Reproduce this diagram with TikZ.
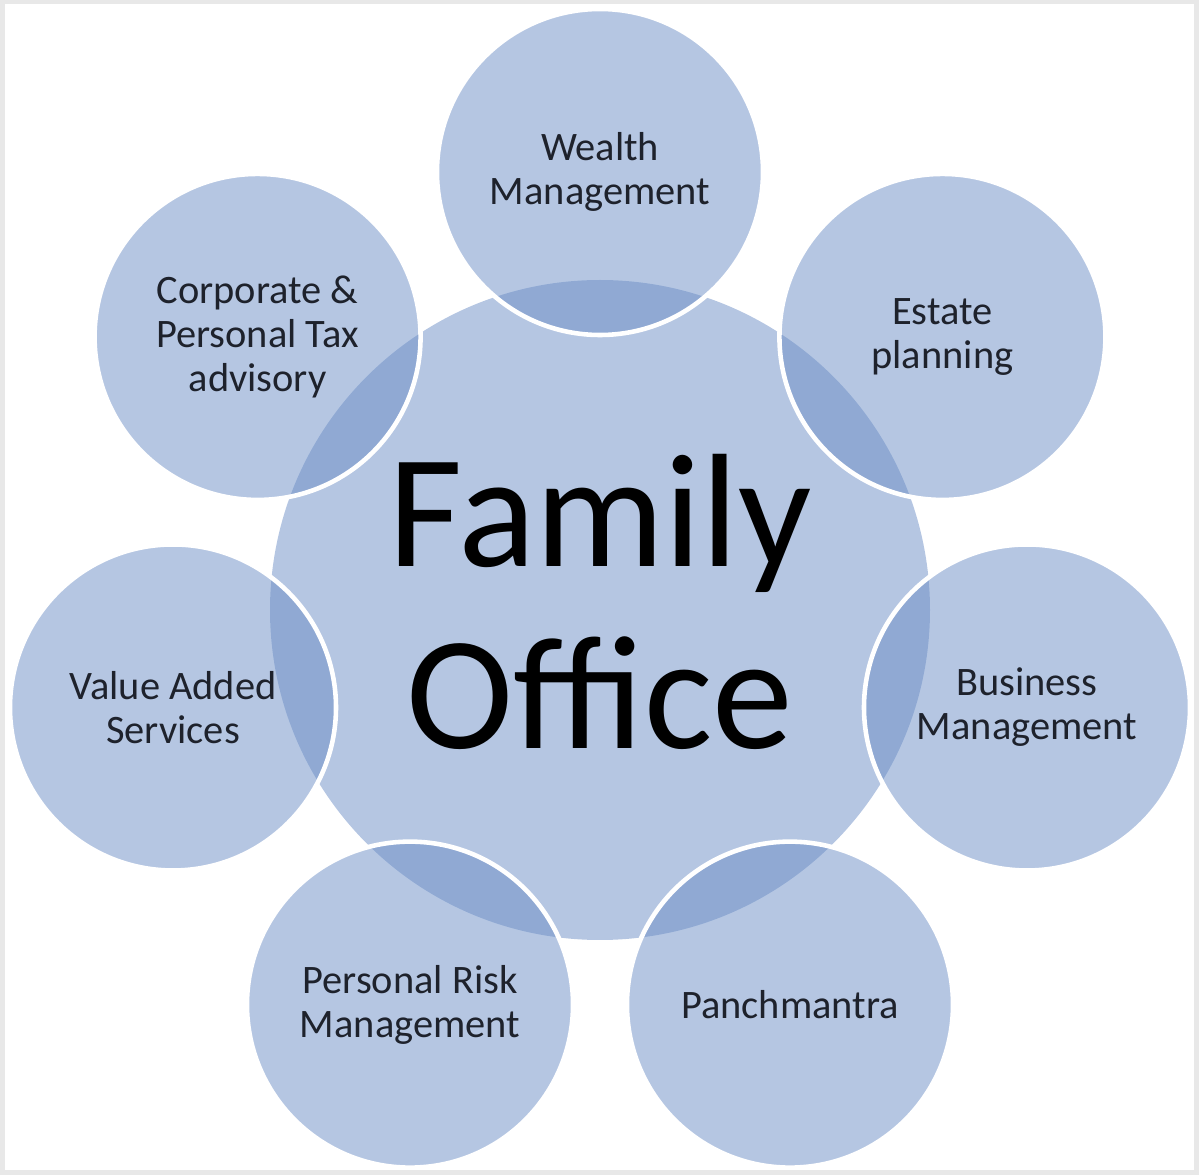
\documentclass[tikz,border=0pt]{standalone}
\usepackage{fontspec}
\setmainfont{Carlito}
\usepackage{xcolor}
\usepackage{tikz}
\usetikzlibrary{positioning}
\definecolor{ringblue}{RGB}{108,142,198}
\definecolor{labeltext}{RGB}{30,34,44}
\tikzstyle{hub} = [circle, minimum size=6.6cm, inner sep=0pt, fill=ringblue!50!white]
\tikzstyle{spoke} = [circle, minimum size=3.26cm, inner sep=0pt, fill=ringblue, fill opacity=0.5, text opacity=1, draw=white, draw opacity=1, line width=1.3pt, align=center, text=labeltext, font=\fontsize{11.5}{12.5}\selectfont]
\tikzstyle{title} = [align=center, font=\fontsize{46}{52}\selectfont]
\tikzstyle{frame} = [draw=black!9, line width=0.5mm]

\begin{document}
\begin{tikzpicture}
    \useasboundingbox (0,0) rectangle (12,11.74);
    \draw[frame] (0.02,0.02) rectangle (11.96,11.72);
    \node(hub)[hub] at (6.00,5.64) {};
    \node(wealth)[spoke] at ([shift={(90:4.38)}]hub.center) {Wealth\\Management};
    \node(estate)[spoke] at ([shift={(38.57:4.38)}]hub.center) {Estate\\planning};
    \node(business)[spoke] at ([shift={(-12.86:4.38)}]hub.center) {Business\\Management};
    \node(panch)[spoke] at ([shift={(-64.29:4.38)}]hub.center) {Panchmantra};
    \node(risk)[spoke] at ([shift={(-115.71:4.38)}]hub.center) {Personal Risk\\Management};
    \node(value)[spoke] at ([shift={(-167.14:4.38)}]hub.center) {Value Added\\Services};
    \node(tax)[spoke] at ([shift={(141.43:4.38)}]hub.center) {Corporate \&\\Personal Tax\\advisory};
    \node(title)[title] at ([yshift=0.08cm]hub.center) {Family\\Office};
\end{tikzpicture}
\end{document}
